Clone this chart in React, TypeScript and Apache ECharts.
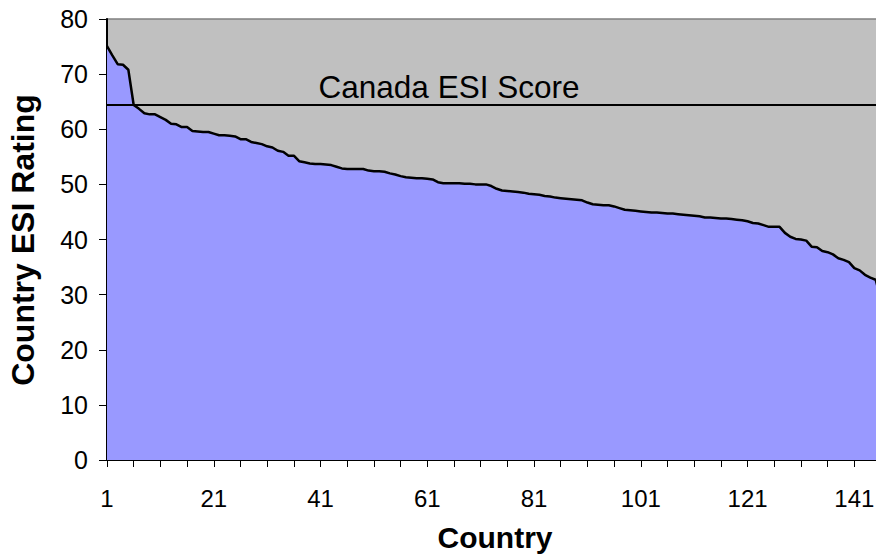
import React, { useEffect, useRef } from "react";
import * as echarts from "echarts";

const esiScores: number[] = [
  75.1, 73.4, 71.8, 71.7, 70.8, 64.4, 63.7, 62.9, 62.7, 62.7,
  62.2, 61.7, 61.0, 60.9, 60.4, 60.4, 59.7, 59.6, 59.5, 59.5,
  59.2, 58.9, 58.9, 58.8, 58.7, 58.2, 58.2, 57.7, 57.5, 57.3,
  56.9, 56.7, 56.1, 55.9, 55.2, 55.2, 54.2, 54.0, 53.8, 53.7,
  53.7, 53.6, 53.5, 53.2, 52.9, 52.8, 52.8, 52.8, 52.8, 52.5,
  52.4, 52.4, 52.3, 52.0, 51.8, 51.5, 51.3, 51.2, 51.1, 51.1,
  51.0, 50.9, 50.4, 50.2, 50.2, 50.2, 50.2, 50.1, 50.1, 50.0,
  50.0, 50.0, 49.7, 49.2, 48.9, 48.8, 48.7, 48.6, 48.5, 48.3,
  48.2, 48.1, 47.9, 47.8, 47.6, 47.5, 47.4, 47.3, 47.2, 47.1,
  46.7, 46.4, 46.3, 46.2, 46.2, 46.0, 45.7, 45.4, 45.3, 45.2,
  45.1, 45.0, 44.9, 44.9, 44.8, 44.7, 44.7, 44.6, 44.5, 44.4,
  44.3, 44.2, 44.0, 44.0, 43.9, 43.8, 43.8, 43.7, 43.6, 43.5,
  43.3, 43.0, 42.9, 42.6, 42.3, 42.3, 42.3, 41.2, 40.5, 40.1,
  40.0, 39.8, 38.7, 38.6, 37.9, 37.7, 37.3, 36.6, 36.3, 35.9,
  34.8, 34.4, 33.6, 33.1, 32.7, 29.2,
];

const countryRanks: string[] = esiScores.map((_, i) => String(i + 1));

const canadaScore = 64.4;
const canadaLabel = "Canada ESI Score";
const xTitle = "Country";
const yTitle = "Country ESI Rating";

const FONT = "'Liberation Sans', Arial, Helvetica, sans-serif";

export default function App() {
  const ref = useRef<HTMLDivElement>(null);

  useEffect(() => {
    if (!ref.current) return;
    const chart = echarts.init(ref.current, undefined, { renderer: "svg" });
    chart.setOption({
      animation: false,
      grid: {
        left: 107,
        top: 19,
        bottom: 94,
        right: 0,
        show: true,
        backgroundColor: "#C0C0C0",
        borderColor: "#808080",
        borderWidth: 1.5,
      },
      xAxis: {
        type: "category",
        data: countryRanks,
        boundaryGap: false,
        axisLine: { show: true, lineStyle: { color: "#000", width: 2 } },
        axisTick: {
          show: true,
          interval: 4,
          length: 7,
          lineStyle: { color: "#000", width: 1 },
        },
        axisLabel: {
          interval: 19,
          margin: 26,
          fontSize: 24,
          color: "#000",
          fontFamily: FONT,
        },
        splitLine: { show: false },
      },
      yAxis: {
        type: "value",
        min: 0,
        max: 80,
        interval: 10,
        axisLine: { show: true, lineStyle: { color: "#000", width: 2 } },
        axisTick: {
          show: true,
          length: 8,
          lineStyle: { color: "#000", width: 1 },
        },
        axisLabel: {
          margin: 19,
          fontSize: 25,
          color: "#000",
          fontFamily: FONT,
        },
        splitLine: { show: false },
      },
      series: [
        {
          type: "line",
          data: esiScores,
          showSymbol: false,
          symbol: "none",
          lineStyle: { color: "#000", width: 2.5 },
          areaStyle: { color: "#9999FF", opacity: 1 },
          markLine: {
            silent: true,
            symbol: "none",
            label: { show: false },
            lineStyle: { color: "#000", width: 2, type: "solid" },
            data: [{ yAxis: canadaScore }],
          },
        },
      ],
      graphic: [
        {
          type: "text",
          x: 449,
          y: 87,
          style: {
            text: canadaLabel,
            fontSize: 31.5,
            fontFamily: FONT,
            fill: "#000",
            textAlign: "center",
            textVerticalAlign: "middle",
          },
        },
        {
          type: "text",
          x: 495,
          y: 537,
          style: {
            text: xTitle,
            fontSize: 30,
            fontWeight: "bold",
            fontFamily: FONT,
            fill: "#000",
            textAlign: "center",
            textVerticalAlign: "middle",
          },
        },
        {
          type: "text",
          x: 23,
          y: 240,
          rotation: Math.PI / 2,
          style: {
            text: yTitle,
            fontSize: 32,
            fontWeight: "bold",
            fontFamily: FONT,
            fill: "#000",
            textAlign: "center",
            textVerticalAlign: "middle",
          },
        },
      ],
    });
    return () => chart.dispose();
  }, []);

  return (
    <div
      style={{
        position: "absolute",
        left: 0,
        top: 0,
        width: 876,
        height: 554,
        overflow: "hidden",
      }}
    >
      <div ref={ref} style={{ width: 881, height: 554 }} />
    </div>
  );
}
